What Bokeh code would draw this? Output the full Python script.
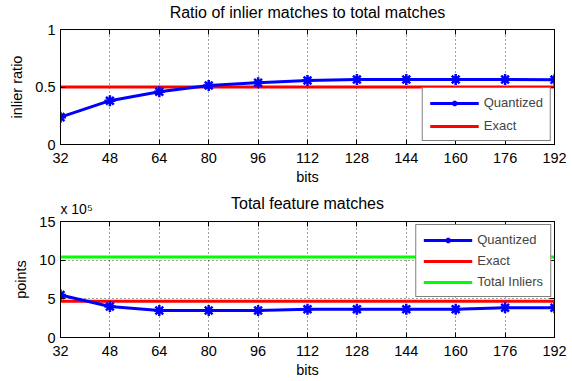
from bokeh.plotting import figure
from bokeh.layouts import column
from bokeh.models import Range1d, FixedTicker, Legend, LegendItem, LinearAxis
from bokeh.embed import file_html
from bokeh.resources import INLINE

# ---- data ----
bits = [32, 48, 64, 80, 96, 112, 128, 144, 160, 176, 192]
ratio_quantized = [0.238, 0.381, 0.458, 0.513, 0.537, 0.556, 0.566, 0.566, 0.566, 0.566, 0.564]
ratio_exact = 0.5
# total matches, in units of 1e5 points
matches_quantized = [5.5, 4.0, 3.5, 3.5, 3.5, 3.65, 3.65, 3.65, 3.65, 3.85, 3.85]
matches_exact = 4.7
total_inliers = 10.4

x_ticks = bits
top_y_ticks = [0, 0.5, 1]
bottom_y_ticks = [0, 5, 10, 15]
top_title = "Ratio of inlier matches to total matches"
bottom_title = "Total feature matches"
exponent_text = "x 10\u2075"

FONT = "Liberation Sans"
BLUE = "#0000FF"
RED = "#FF0000"
GREEN = "#00FF00"


def base_axis_style(ax):
    ax.major_tick_in = 5
    ax.major_tick_out = 0
    ax.minor_tick_in = 0
    ax.minor_tick_out = 0
    ax.axis_line_color = "black"
    ax.major_tick_line_color = "black"
    ax.minor_tick_line_color = "black"
    ax.major_label_text_font = FONT
    ax.major_label_text_font_size = "14.5px"
    ax.major_label_text_color = "black"
    ax.axis_label_text_font = FONT
    ax.axis_label_text_font_size = "14.5px"
    ax.axis_label_text_font_style = "normal"
    ax.axis_label_text_color = "black"


def mirror_axis(ticks, label_ticks):
    # ticks drawn as minor ticks so that no empty labels are produced
    ax = LinearAxis(ticker=FixedTicker(ticks=label_ticks, minor_ticks=ticks))
    base_axis_style(ax)
    ax.major_tick_in = 0
    ax.minor_tick_in = 5
    ax.minor_tick_out = 0
    return ax


def style(p, yticks, ylabel, title, exp_pos, above_standoff, above_label_standoff):
    p.x_range = Range1d(bits[0], bits[-1])
    p.xaxis.ticker = FixedTicker(ticks=x_ticks)
    p.yaxis.ticker = FixedTicker(ticks=yticks)
    p.outline_line_color = "black"
    p.outline_line_width = 1
    p.outline_line_alpha = 1
    for ax in (p.xaxis[0], p.yaxis[0]):
        base_axis_style(ax)
    p.xaxis.axis_label = "bits"
    p.xaxis.major_label_standoff = 8
    p.xaxis.axis_label_standoff = 3
    p.yaxis.axis_label = ylabel
    p.yaxis.major_label_standoff = 5
    p.yaxis.axis_label_standoff = 7
    p.xgrid.ticker = FixedTicker(ticks=x_ticks)
    p.ygrid.ticker = FixedTicker(ticks=yticks)
    for g in (p.xgrid[0], p.ygrid[0]):
        g.grid_line_color = "black"
        g.grid_line_dash = "1 3"
        g.grid_line_alpha = 0.75
        g.grid_line_width = 1
    p.background_fill_color = "white"
    p.border_fill_color = "white"

    # mirrored ticks on top, carrying the title (and the exponent) as text
    label_ticks = [] if exp_pos is None else [exp_pos]
    top_ax = mirror_axis(x_ticks, label_ticks)
    if exp_pos is not None:
        top_ax.major_label_overrides = {exp_pos: exponent_text}
    top_ax.major_label_text_font_size = "14px"
    top_ax.major_label_standoff = above_standoff
    top_ax.axis_label = title
    top_ax.axis_label_text_font_size = "16px"
    top_ax.axis_label_standoff = above_label_standoff
    p.add_layout(top_ax, "above")

    # mirrored ticks on the right
    right_ax = mirror_axis(yticks, [])
    right_ax.major_label_standoff = 0
    p.add_layout(right_ax, "right")


# ---- top plot ----
p1 = figure(width=572, height=190, output_backend="svg", toolbar_location=None,
            y_range=Range1d(0, 1),
            min_border_left=60, min_border_right=18, min_border_top=29, min_border_bottom=46)
style(p1, top_y_ticks, "inlier ratio", top_title, None, 0, 9)
r_ex1 = p1.line([bits[0], bits[-1]], [ratio_exact, ratio_exact], line_color=RED, line_width=3)
r_q1 = p1.line(bits, ratio_quantized, line_color=BLUE, line_width=3)
r_q1m = p1.scatter(bits, ratio_quantized, marker="asterisk", size=11, line_color=BLUE, line_width=2.5)
leg1 = Legend(items=[LegendItem(label="Quantized", renderers=[r_q1, r_q1m]),
                     LegendItem(label="Exact", renderers=[r_ex1])],
              location="bottom_right")
leg1.margin = 3
leg1.padding = 7
leg1.spacing = 8
leg1.glyph_width = 49
leg1.glyph_height = 14
leg1.label_height = 14
leg1.label_standoff = 5
leg1.label_text_font = FONT
leg1.label_text_font_size = "13px"
leg1.border_line_color = "black"
leg1.border_line_width = 1
leg1.background_fill_alpha = 1
p1.add_layout(leg1)

# ---- bottom plot ----
p2 = figure(width=572, height=191, output_backend="svg", toolbar_location=None,
            y_range=Range1d(0, 15),
            min_border_left=60, min_border_right=18, min_border_top=31, min_border_bottom=44)
# the exponent text is centred a little right of the axis corner
style(p2, bottom_y_ticks, "points", bottom_title, 37.2, 5, -14)
r_in2 = p2.line([bits[0], bits[-1]], [total_inliers, total_inliers], line_color=GREEN, line_width=3)
r_ex2 = p2.line([bits[0], bits[-1]], [matches_exact, matches_exact], line_color=RED, line_width=3)
r_q2 = p2.line(bits, matches_quantized, line_color=BLUE, line_width=3)
r_q2m = p2.scatter(bits, matches_quantized, marker="asterisk", size=11, line_color=BLUE, line_width=2.5)
leg2 = Legend(items=[LegendItem(label="Quantized", renderers=[r_q2, r_q2m]),
                     LegendItem(label="Exact", renderers=[r_ex2]),
                     LegendItem(label="Total Inliers", renderers=[r_in2])],
              location="top_right")
leg2.margin = 3
leg2.padding = 7
leg2.spacing = 6
leg2.glyph_width = 49
leg2.glyph_height = 14
leg2.label_height = 14
leg2.label_standoff = 5
leg2.label_text_font = FONT
leg2.label_text_font_size = "13px"
leg2.border_line_color = "black"
leg2.border_line_width = 1
leg2.background_fill_alpha = 1
p2.add_layout(leg2)

layout = column(p1, p2, spacing=0)
open("out.html", "w").write(file_html(layout, INLINE))
